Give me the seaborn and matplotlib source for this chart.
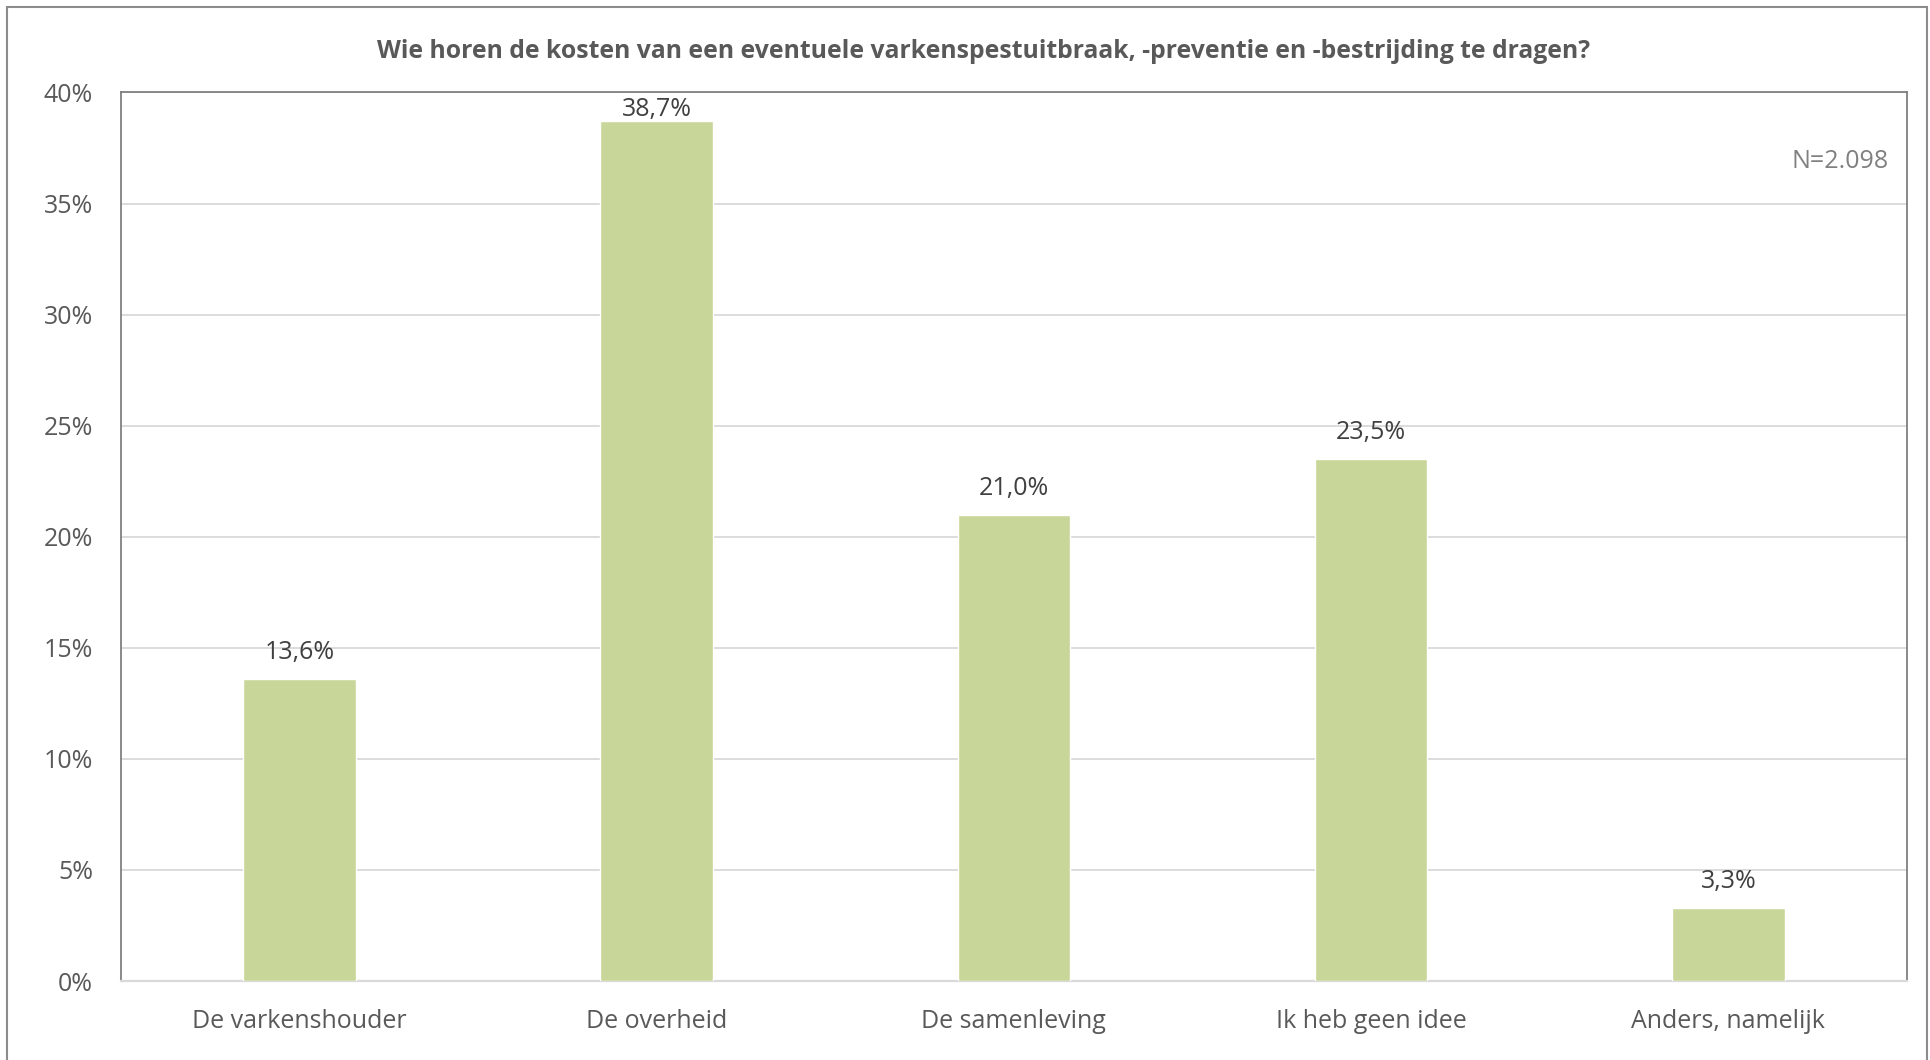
import matplotlib
matplotlib.use("Agg")
import matplotlib.pyplot as plt
import seaborn as sns
from matplotlib.patches import Rectangle
from matplotlib.ticker import FuncFormatter

# data
categorieen = ["De varkenshouder", "De overheid", "De samenleving",
               "Ik heb geen idee", "Anders, namelijk"]
percentages = [13.6, 38.7, 21.0, 23.5, 3.3]
titel = "Wie horen de kosten van een eventuele varkenspestuitbraak, -preventie en -bestrijding te dragen?"
n_label = "N=2.098"

sns.set_theme(style="white")
plt.rcParams["font.family"] = ["Open Sans", "DejaVu Sans"]

fig = plt.figure(figsize=(19.31, 10.60), dpi=100)
ax = fig.add_axes([0.0625, 0.0745, 0.9251, 0.8383])

sns.barplot(x=categorieen, y=percentages, color="#C9D699", saturation=1,
            width=0.315, ax=ax, zorder=3)

ax.set_ylim(0, 40)
ax.set_xlim(-0.5, len(categorieen) - 0.5)
ax.set_yticks(range(0, 41, 5))
ax.yaxis.set_major_formatter(FuncFormatter(lambda v, p: f"{v:.0f}%"))
ax.grid(axis="y", color="#D9D9D9", linewidth=1.3, zorder=0)
ax.tick_params(axis="both", length=0, labelsize=18, labelcolor="#595959")
ax.tick_params(axis="y", pad=20)
ax.tick_params(axis="x", pad=20)
ax.set_xlabel("")
ax.set_ylabel("")

for kant in ["left", "top", "right"]:
    ax.spines[kant].set_color("#808080")
    ax.spines[kant].set_linewidth(1.3)
ax.spines["bottom"].set_color("#D9D9D9")
ax.spines["bottom"].set_linewidth(1.6)

# waardelabels (binnen het plotvlak gehouden, zoals Excel doet)
for i, v in enumerate(percentages):
    y_label = min(v + 1.17, 39.25)
    ax.text(i, y_label, f"{v:.1f}%".replace(".", ","), ha="center",
            va="center", fontsize=18, color="#404040", zorder=4)

ax.text(0.9895, 0.922, n_label, transform=ax.transAxes, ha="right",
        va="center", fontsize=18, color="#808080")

fig.text(0.5095, 0.951, titel, ha="center", va="center", fontsize=17.8,
         fontweight="bold", color="#595959")

# rand rond de grafiek
fig.patches.append(Rectangle((7 / 1931, -0.01), 1920 / 1931, 1 - 7 / 1060 + 0.01,
                             transform=fig.transFigure, fill=False,
                             edgecolor="#8C8C8C", linewidth=1.5))

plt.savefig("out.png", dpi=100)
plt.close()
